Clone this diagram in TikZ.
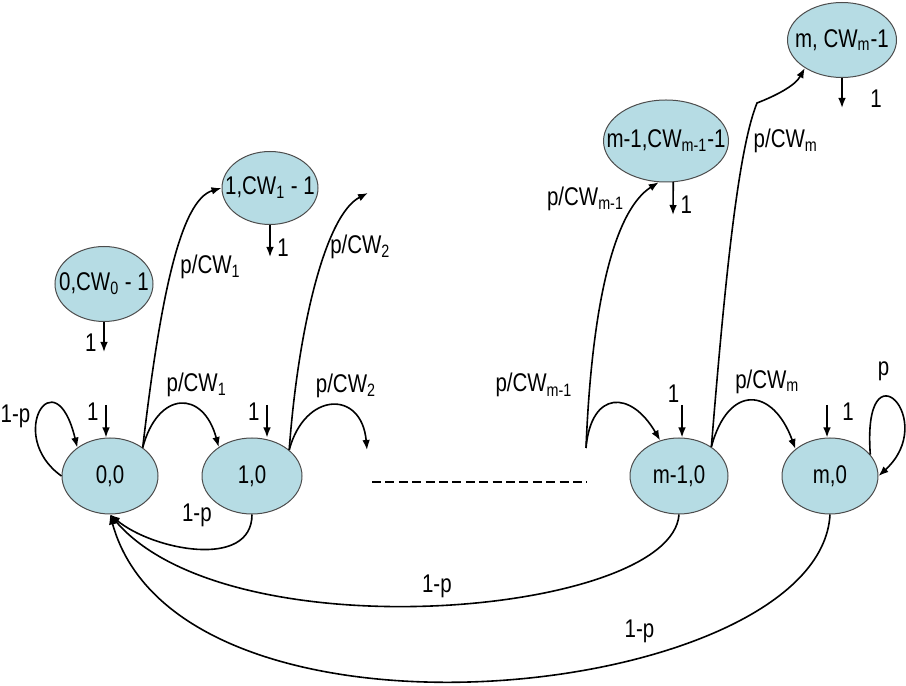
\documentclass[tikz,border=0pt]{standalone}
\usepackage{fontspec}
\setmainfont[FakeStretch=0.8]{Liberation Sans}
\usepackage{xcolor}
\usetikzlibrary{shapes.geometric}
\usetikzlibrary{arrows.meta}
\definecolor{statefill}{RGB}{182,220,228}
\newcommand{\fitin}[1]{\makebox[0pt]{#1}}

\begin{document}
\begin{tikzpicture}[
			     x=0.5pt, y=0.5pt,
			     >={Latex[length=5pt,width=3.8pt]},
			     font=\fontsize{12.8}{15}\selectfont,
			     state/.style={ellipse, draw=black!70, line width=0.5pt, fill=statefill, inner sep=0pt},
			     normal line/.style={->, line width=0.8pt}
			     ]
\useasboundingbox (0,0) rectangle (906,686);
% states of the chain
\node[state, minimum width=48pt, minimum height=38pt] (s00) at (110,210) {0,0};
\node[state, minimum width=50pt, minimum height=38pt] (s10) at (252,210) {1,0};
\node[state, minimum width=49pt, minimum height=38pt] (sm10) at (679,210) {m-1,0};
\node[state, minimum width=48pt, minimum height=38pt] (sm0) at (830,210) {m,0};
\node[state, minimum width=49pt, minimum height=37.5pt] (s0w) at (104,402) {\fitin{0,CW\textsubscript{0} - 1}};
\node[state, minimum width=48pt, minimum height=36.5pt] (s1w) at (270,498) {\fitin{1,CW\textsubscript{1} - 1}};
\node[state, minimum width=62.5pt, minimum height=41pt] (smw1) at (666,545) {\fitin{m-1,CW\textsubscript{m-1}-1}};
\node[state, minimum width=54.5pt, minimum height=37.5pt] (smw) at (842,646) {\fitin{m, CW\textsubscript{m}-1}};
% free ends
\coordinate (in00) at (106,281);
\coordinate (in10) at (267,281);
\coordinate (inm10) at (682,281);
\coordinate (inm0) at (827,281);
\coordinate (out0w) at (104,334);
\coordinate (out1w) at (270,429);
\coordinate (outmw1) at (673,471);
\coordinate (outmw) at (842,578);
\coordinate (free2) at (368,493);
\coordinate (free2b) at (367,236);
\coordinate (freem1) at (586,238);
\coordinate (kink) at (757,583);
\coordinate (dl) at (372,204);
\coordinate (dr) at (587,204);

\draw[line width=1.2pt, dash pattern=on 4.5pt off 2.2pt] (dl) -- (dr);

% probability 1 arrows
\draw[normal line] (in00) -- (in00 |- s00.north) node[pos=0.2, left] {1};
\draw[normal line] (in10) -- (in10 |- s10.north) node[pos=0.2, left] {1};
\draw[normal line] (inm10) -- (inm10 |- sm10.north) node[pos=0, anchor=south east, inner sep=1pt] {1};
\draw[normal line] (inm0) -- (inm0 |- sm0.north) node[pos=0.2, right=4pt] {1};
\draw[normal line] (s0w.south) -- (out0w) node[pos=0.7, left] {1};
\draw[normal line] (s1w.south) -- (out1w) node[pos=0.7, right] {1};
\draw[normal line] (smw1.-80) -- (outmw1) node[pos=0.7, right] {1};
\draw[normal line] (smw.south) -- (outmw) node[pos=0.7, right=10.5pt] {1};

% self loops
\draw[normal line] (s00.180) .. controls (5,250) and (55,331) .. node[pos=0.45, left] {1-p} (s00.139);
\draw[normal line] (sm0.28) .. controls (862,346) and (940,266) .. node[pos=0.35, above=4pt] {p} (sm0.east);

% p/CW transitions
\path (s00.41) edge[normal line, out=75, in=105, looseness=2] node[above, xshift=8pt] {p/CW\textsubscript{1}} (s10.139);
\path (s10.35) edge[normal line, out=75, in=95, looseness=2] node[above, xshift=7pt] {p/CW\textsubscript{2}} (free2b);
\path (sm10.42) edge[normal line, out=75, in=110, looseness=2] node[above, xshift=8pt] {p/CW\textsubscript{m}} (sm0.142);
\path (freem1) edge[normal line, out=85, in=120, looseness=2] (sm10.118);
\draw[normal line] (s00.41) .. controls (160,386) and (180,486) .. node[pos=0.5, right] {p/CW\textsubscript{1}} (s1w.west);
\draw[normal line] (s10.35) .. controls (298,356) and (325,471) .. node[pos=0.65, right=-3pt] {p/CW\textsubscript{2}} (free2);
\draw[normal line] (freem1) .. controls (592,386) and (615,476) .. node[pos=0.15, left=5pt] {p/CW\textsubscript{m-1}} node[pos=0.85, left=4.5pt] {p/CW\textsubscript{m-1}} (smw1.260);
\draw[normal line] (sm10.42) .. controls (725,406) and (738,536) .. node[pos=0.8, right] {p/CW\textsubscript{m}} (kink) .. controls (775,590) and (795,600) .. (smw.217);

% back to 0,0
\path (s10.south) edge[normal line, out=-90, in=-40] node[midway, above=7pt] {1-p} (s00.south);
\draw[normal line] (sm10.south) .. controls (672,71) and (230,31) .. node[midway, above] {1-p} (s00.south);
\draw[normal line] (sm0.south) .. controls (820,-14) and (180,-84) .. node[pos=0.35, above=4pt] {1-p} (s00.south);
\end{tikzpicture}
\end{document}
